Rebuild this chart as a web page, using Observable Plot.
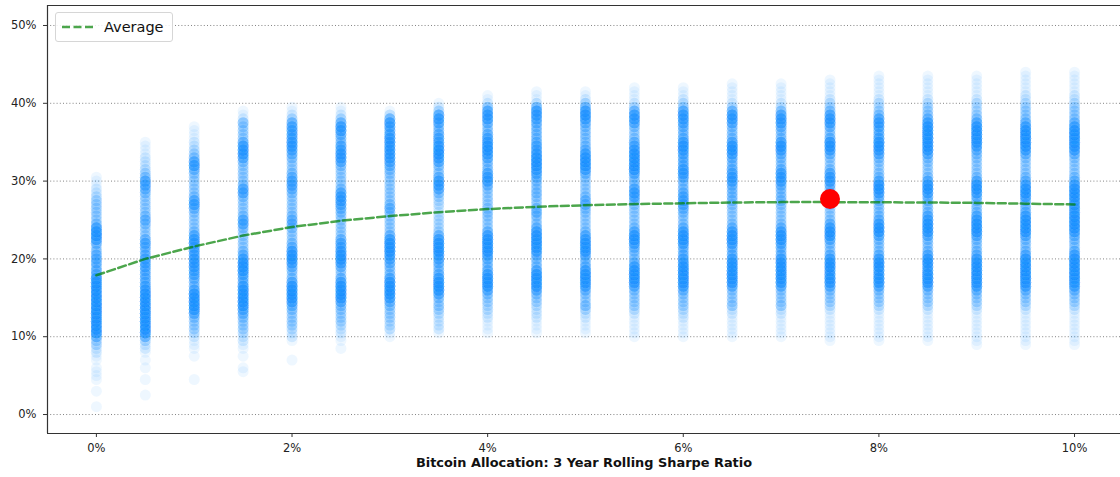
<!DOCTYPE html>
<html>
<head>
<meta charset="utf-8">
<script src="https://cdn.jsdelivr.net/npm/d3@7"></script>
<script src="https://cdn.jsdelivr.net/npm/@observablehq/plot@0.6"></script>
<style>
html, body { margin: 0; padding: 0; background: #fff; overflow: hidden; }
#wrap { position: relative; width: 1120px; height: 477px; font-family: "DejaVu Sans", sans-serif; }
#legend { position: absolute; left: 55px; top: 12px; width: 118px; height: 30px; box-sizing: border-box;
  border: 1px solid #d6d6d6; border-radius: 3px; background: rgba(255,255,255,0.85);
  display: flex; align-items: center; }
#legend svg { margin-left: 6px; }
#legend span { margin-left: 11px; font-size: 14.5px; color: #111; }
</style>
</head>
<body>
<div id="wrap">
  <div id="chart"></div>
  <div id="legend"><svg width="31" height="6"><line x1="0" y1="3" x2="31" y2="3" stroke="#008000" stroke-opacity="0.7" stroke-width="2.5" stroke-dasharray="8,3.5"/></svg><span id="legendText"></span></div>
</div>
<script>
// ---- data ----
const allocations = [0, 0.5, 1, 1.5, 2, 2.5, 3, 3.5, 4, 4.5, 5, 5.5, 6, 6.5, 7, 7.5, 8, 8.5, 9, 9.5, 10];

// return levels (%) at which the rolling-window observations are tallied
const yLevels = [0, 0.5, 1, 1.5, 2, 2.5, 3, 3.5, 4, 4.5, 5, 5.5, 6, 6.5, 7, 7.5, 8, 8.5, 9, 9.5,
  10, 10.5, 11, 11.5, 12, 12.5, 13, 13.5, 14, 14.5, 15, 15.5, 16, 16.5, 17, 17.5, 18, 18.5, 19, 19.5,
  20, 20.5, 21, 21.5, 22, 22.5, 23, 23.5, 24, 24.5, 25, 25.5, 26, 26.5, 27, 27.5, 28, 28.5, 29, 29.5,
  30, 30.5, 31, 31.5, 32, 32.5, 33, 33.5, 34, 34.5, 35, 35.5, 36, 36.5, 37, 37.5, 38, 38.5, 39, 39.5,
  40, 40.5, 41, 41.5, 42, 42.5, 43, 43.5, 44];

// number of observations at each level, one array per allocation
const obs_0_0 = [0,0, 1,0, 0,0, 1,0, 0,1, 1,1, 1,0, 1,1, 2,2, 4,4,
  8,14, 14,14, 14,14, 14,14, 14,14, 14,14, 14,14, 14,14, 8,8, 6,8,
  8,8, 6,4, 8,12, 14,14, 12,6, 4,4, 4,4, 4,4, 3,2, 2,1,
  1,1, 0,0, 0,0, 0,0, 0,0, 0,0, 0,0, 0,0, 0,0, 0,0,
  0,0, 0,0, 0,0, 0,0, 0];
const obs_0_5 = [0,0, 0,0, 0,1, 0,0, 0,1, 0,0, 1,0, 1,0, 1,2, 2,4,
  8,14, 14,14, 14,14, 14,14, 14,14, 14,14, 12,10, 8,8, 8,8, 10,10,
  10,8, 6,8, 10,8, 4,4, 4,6, 8,6, 4,4, 4,4, 4,6, 8,10,
  10,6, 4,3, 2,2, 2,1, 1,1, 1,0, 0,0, 0,0, 0,0, 0,0,
  0,0, 0,0, 0,0, 0,0, 0];
const obs_1_0 = [0,0, 0,0, 0,0, 0,0, 0,1, 0,0, 0,0, 0,1, 0,1, 1,1,
  2,3, 4,4, 4,6, 10,14, 14,14, 14,14, 10,6, 6,8, 10,10, 12,12,
  12,10, 10,10, 12,12, 10,6, 4,4, 4,4, 5,8, 12,10, 6,4, 4,4,
  4,4, 5,8, 12,10, 6,4, 3,2, 2,1, 1,1, 1,0, 0,0, 0,0,
  0,0, 0,0, 0,0, 0,0, 0];
const obs_1_5 = [0,0, 0,0, 0,0, 0,0, 0,0, 0,1, 1,0, 0,1, 0,1, 1,2,
  2,3, 4,4, 4,6, 8,10, 14,14, 14,14, 14,12, 8,8, 10,14, 14,14,
  12,8, 6,4, 4,4, 4,4, 6,10, 10,6, 4,4, 4,4, 6,10, 10,6,
  4,4, 4,4, 4,6, 10,12, 12,12, 8,4, 4,4, 4,6, 2,1, 1,0,
  0,0, 0,0, 0,0, 0,0, 0];
const obs_2_0 = [0,0, 0,0, 0,0, 0,0, 0,0, 0,0, 0,0, 1,0, 0,0, 0,1,
  2,2, 3,4, 4,4, 4,6, 8,12, 14,14, 14,14, 10,6, 4,6, 8,12,
  14,14, 12,8, 6,4, 4,4, 6,8, 8,6, 4,4, 4,4, 4,6, 8,10,
  10,8, 6,4, 4,4, 6,8, 10,12, 12,10, 10,10, 10,8, 4,2, 1,1,
  0,0, 0,0, 0,0, 0,0, 0];
const obs_2_5 = [0,0, 0,0, 0,0, 0,0, 0,0, 0,0, 0,0, 0,0, 0,1, 0,1,
  1,2, 2,3, 4,4, 4,5, 6,10, 14,14, 14,14, 12,8, 4,5, 8,12,
  14,14, 12,10, 10,8, 4,4, 4,4, 4,5, 6,8, 10,12, 12,10, 6,4,
  4,4, 4,4, 6,10, 12,12, 10,10, 6,6, 8,12, 12,8, 4,2, 1,1,
  0,0, 0,0, 0,0, 0,0, 0];
const obs_3_0 = [0,0, 0,0, 0,0, 0,0, 0,0, 0,0, 0,0, 0,0, 0,0, 0,0,
  1,1, 3,3, 3,4, 4,4, 6,8, 12,14, 14,14, 14,10, 6,5, 6,8,
  10,12, 14,14, 14,12, 8,4, 4,4, 4,4, 6,8, 6,4, 4,4, 4,4,
  4,4, 5,6, 8,10, 12,12, 12,12, 12,12, 10,8, 10,12, 8,3, 1,0,
  0,0, 0,0, 0,0, 0,0, 0];
const obs_3_5 = [0,0, 0,0, 0,0, 0,0, 0,0, 0,0, 0,0, 0,0, 0,0, 0,0,
  0,1, 2,2, 2,2, 3,4, 5,4, 6,10, 14,14, 14,12, 8,6, 6,8,
  10,12, 14,14, 14,12, 8,4, 3,3, 3,3, 2,2, 3,3, 4,6, 10,12,
  12,8, 5,4, 6,10, 12,14, 14,12, 10,10, 8,6, 6,10, 12,10, 4,2,
  1,0, 0,0, 0,0, 0,0, 0];
const obs_4_0 = [0,0, 0,0, 0,0, 0,0, 0,0, 0,0, 0,0, 0,0, 0,0, 0,0,
  0,1, 1,1, 1,2, 2,3, 3,4, 4,6, 10,14, 14,14, 12,8, 6,6,
  8,12, 14,14, 14,14, 12,8, 4,4, 4,5, 5,5, 4,4, 4,4, 5,8,
  12,12, 10,6, 5,6, 10,12, 14,14, 12,10, 8,5, 5,8, 12,12, 10,6,
  2,1, 1,0, 0,0, 0,0, 0];
const obs_4_5 = [0,0, 0,0, 0,0, 0,0, 0,0, 0,0, 0,0, 0,0, 0,0, 0,0,
  0,1, 1,1, 1,2, 2,2, 3,4, 4,6, 10,14, 14,14, 14,10, 6,5,
  6,8, 12,14, 14,14, 14,12, 8,5, 4,6, 8,6, 4,4, 5,6, 5,5,
  6,8, 10,12, 14,14, 14,12, 10,10, 8,6, 6,6, 6,8, 10,12, 12,8,
  3,1, 1,1, 0,0, 0,0, 0];
const obs_5_0 = [0,0, 0,0, 0,0, 0,0, 0,0, 0,0, 0,0, 0,0, 0,0, 0,0,
  0,1, 1,1, 1,2, 2,4, 6,4, 4,5, 8,12, 14,14, 14,12, 8,6,
  6,10, 14,14, 14,12, 10,6, 4,4, 4,4, 5,6, 8,8, 6,4, 4,4,
  4,5, 8,12, 14,14, 14,12, 8,6, 5,5, 5,5, 6,8, 12,14, 12,8,
  4,2, 1,1, 0,0, 0,0, 0];
const obs_5_5 = [0,0, 0,0, 0,0, 0,0, 0,0, 0,0, 0,0, 0,0, 0,0, 0,0,
  1,1, 1,1, 1,1, 2,3, 4,4, 4,4, 6,10, 14,14, 14,14, 12,8,
  5,5, 6,8, 12,14, 14,10, 6,4, 4,4, 4,4, 5,8, 10,12, 10,6,
  5,6, 10,14, 14,14, 14,14, 12,10, 8,5, 4,4, 6,10, 12,12, 8,4,
  2,1, 1,1, 1,0, 0,0, 0];
const obs_6_0 = [0,0, 0,0, 0,0, 0,0, 0,0, 0,0, 0,0, 0,0, 0,0, 0,0,
  1,1, 1,1, 1,2, 2,3, 4,4, 4,5, 8,12, 14,14, 14,14, 14,12,
  10,8, 6,8, 12,14, 14,12, 8,5, 4,5, 6,8, 10,10, 10,8, 6,5,
  6,10, 12,12, 8,8, 8,10, 12,14, 12,8, 6,6, 8,10, 12,12, 10,5,
  3,2, 1,1, 1,0, 0,0, 0];
const obs_6_5 = [0,0, 0,0, 0,0, 0,0, 0,0, 0,0, 0,0, 0,0, 0,0, 0,0,
  1,1, 1,1, 1,1, 2,2, 5,4, 4,4, 5,10, 14,14, 14,14, 14,14,
  12,8, 6,8, 12,14, 14,12, 8,5, 4,4, 4,4, 5,6, 6,6, 6,8,
  12,12, 10,8, 6,6, 8,12, 14,14, 10,6, 5,5, 6,10, 12,12, 8,4,
  2,1, 1,1, 1,1, 0,0, 0];
const obs_7_0 = [0,0, 0,0, 0,0, 0,0, 0,0, 0,0, 0,0, 0,0, 0,0, 0,0,
  1,1, 1,1, 1,1, 2,2, 5,4, 4,4, 5,10, 14,14, 14,14, 14,14,
  12,8, 6,8, 10,14, 14,12, 8,5, 4,4, 4,4, 5,6, 6,5, 6,8,
  12,12, 12,8, 5,5, 6,8, 12,14, 12,6, 5,6, 8,12, 12,10, 6,3,
  2,1, 1,1, 1,1, 0,0, 0];
const obs_7_5 = [0,0, 0,0, 0,0, 0,0, 0,0, 0,0, 0,0, 0,0, 0,0, 0,1,
  1,1, 1,1, 1,1, 1,2, 3,4, 4,4, 6,10, 14,14, 12,12, 14,14,
  12,8, 5,5, 6,10, 14,14, 12,8, 5,4, 4,4, 5,6, 6,6, 6,8,
  12,12, 10,6, 4,4, 5,8, 12,14, 14,8, 5,5, 8,12, 12,10, 6,4,
  3,2, 1,1, 1,1, 1,0, 0];
const obs_8_0 = [0,0, 0,0, 0,0, 0,0, 0,0, 0,0, 0,0, 0,0, 0,0, 0,1,
  1,1, 1,1, 1,1, 1,2, 3,4, 4,4, 6,10, 14,14, 12,12, 14,14,
  12,8, 5,5, 5,6, 10,14, 14,12, 8,6, 5,5, 5,6, 8,12, 14,14,
  10,6, 5,4, 4,5, 6,10, 12,14, 14,10, 8,8, 10,12, 10,6, 4,3,
  3,2, 1,1, 1,1, 1,1, 0];
const obs_8_5 = [0,0, 0,0, 0,0, 0,0, 0,0, 0,0, 0,0, 0,0, 0,0, 0,1,
  1,1, 1,1, 1,1, 1,2, 3,4, 4,4, 6,10, 14,14, 14,12, 12,14,
  14,10, 6,5, 5,6, 10,14, 14,14, 12,10, 6,5, 5,6, 8,12, 14,14,
  10,6, 4,4, 4,5, 6,10, 14,14, 14,14, 14,14, 14,12, 8,5, 4,4,
  3,2, 1,1, 1,1, 1,1, 0];
const obs_9_0 = [0,0, 0,0, 0,0, 0,0, 0,0, 0,0, 0,0, 0,0, 0,0, 1,1,
  1,1, 1,1, 1,1, 1,2, 3,4, 4,5, 8,12, 14,14, 14,14, 14,14,
  12,8, 6,5, 5,6, 10,14, 14,14, 12,10, 6,5, 5,6, 8,12, 14,14,
  10,6, 4,4, 4,4, 5,6, 8,12, 14,14, 14,14, 14,10, 6,4, 3,3,
  3,2, 1,1, 1,1, 1,1, 0];
const obs_9_5 = [0,0, 0,0, 0,0, 0,0, 0,0, 0,0, 0,0, 0,0, 0,0, 1,1,
  1,1, 1,1, 1,1, 1,2, 3,4, 4,5, 8,12, 14,14, 14,14, 14,14,
  14,10, 6,5, 5,6, 10,14, 14,14, 14,12, 8,6, 6,8, 12,14, 14,12,
  8,6, 4,4, 4,4, 5,8, 12,14, 14,14, 14,14, 12,8, 5,4, 4,4,
  3,2, 2,1, 1,1, 1,1, 1];
const obs_10_0 = [0,0, 0,0, 0,0, 0,0, 0,0, 0,0, 0,0, 0,0, 0,0, 1,1,
  1,1, 1,1, 1,1, 1,2, 3,4, 4,5, 8,12, 14,14, 14,14, 14,14,
  14,12, 8,5, 5,6, 8,12, 14,14, 14,14, 12,12, 12,12, 14,14, 14,12,
  8,6, 4,4, 4,4, 5,8, 12,14, 14,14, 14,14, 12,8, 5,4, 4,4,
  3,2, 2,1, 1,1, 1,1, 1];

// average of the observations at each allocation (%)
const averageReturn = [17.9, 20.0, 21.6, 23.0, 24.1, 24.9, 25.5, 26.0, 26.4, 26.7, 26.9,
  27.05, 27.15, 27.25, 27.3, 27.3, 27.28, 27.25, 27.2, 27.1, 27.0];

// highlighted optimum
const optimalAllocation = [7.5];
const optimalReturn = [27.7];

const xTicks = [0, 2, 4, 6, 8, 10];
const yTicks = [0, 10, 20, 30, 40, 50];
const axisTitle = "Bitcoin Allocation: 3 Year Rolling Sharpe Ratio";
const legendLabel = "Average";

// ---- build ----
const observationCounts = [obs_0_0, obs_0_5, obs_1_0, obs_1_5, obs_2_0, obs_2_5, obs_3_0, obs_3_5,
  obs_4_0, obs_4_5, obs_5_0, obs_5_5, obs_6_0, obs_6_5, obs_7_0, obs_7_5, obs_8_0, obs_8_5,
  obs_9_0, obs_9_5, obs_10_0];

const points = [];
observationCounts.forEach((counts, i) => {
  counts.forEach((n, j) => {
    for (let k = 0; k < n; k++) points.push({allocation: allocations[i], value: yLevels[j]});
  });
});

document.getElementById("legendText").textContent = legendLabel;

const xDomain = [-0.5, 10.47];
const yDomain = [-2.44, 52.57];
const pct = d => d + "%";

const chart = Plot.plot({
  width: 1120,
  height: 477,
  marginLeft: 47,
  marginRight: 0,
  marginTop: 5,
  marginBottom: 44,
  style: {fontFamily: "DejaVu Sans, sans-serif", fontSize: "12px", color: "#222", background: "white"},
  x: {domain: xDomain},
  y: {domain: yDomain},
  marks: [
    Plot.gridY(yTicks, {stroke: "#666", strokeOpacity: 0.9, strokeWidth: 0.9, strokeDasharray: "1,2.2"}),
    Plot.dot(points, {x: "allocation", y: "value", r: 5.5, fill: "#1e90ff", fillOpacity: 0.075, stroke: "none"}),
    Plot.line(allocations, {x: allocations, y: averageReturn, stroke: "#008000", strokeOpacity: 0.7,
      strokeWidth: 2.5, strokeDasharray: "8,3.5"}),
    Plot.dot(optimalAllocation, {x: optimalAllocation, y: optimalReturn, r: 10, fill: "red"}),
    Plot.ruleY([yDomain[0], yDomain[1]], {stroke: "#333", strokeWidth: 1.2}),
    Plot.ruleX([xDomain[0]], {stroke: "#333", strokeWidth: 1.2}),
    Plot.axisX(xTicks, {tickSize: 4, tickPadding: 6, tickFormat: pct, label: null, stroke: "#333",
      fontSize: 11.5, fontFamily: "DejaVu Sans"}),
    Plot.axisY(yTicks, {tickSize: 4, tickPadding: 7, tickFormat: pct, label: null, stroke: "#333",
      fontSize: 11.5, fontFamily: "DejaVu Sans"}),
    Plot.text([axisTitle], {frameAnchor: "bottom", dy: 33, fontWeight: "bold", fontSize: 12.9, fill: "#111",
      fontFamily: "DejaVu Sans"})
  ]
});
document.getElementById("chart").appendChild(chart);
</script>
</body>
</html>
